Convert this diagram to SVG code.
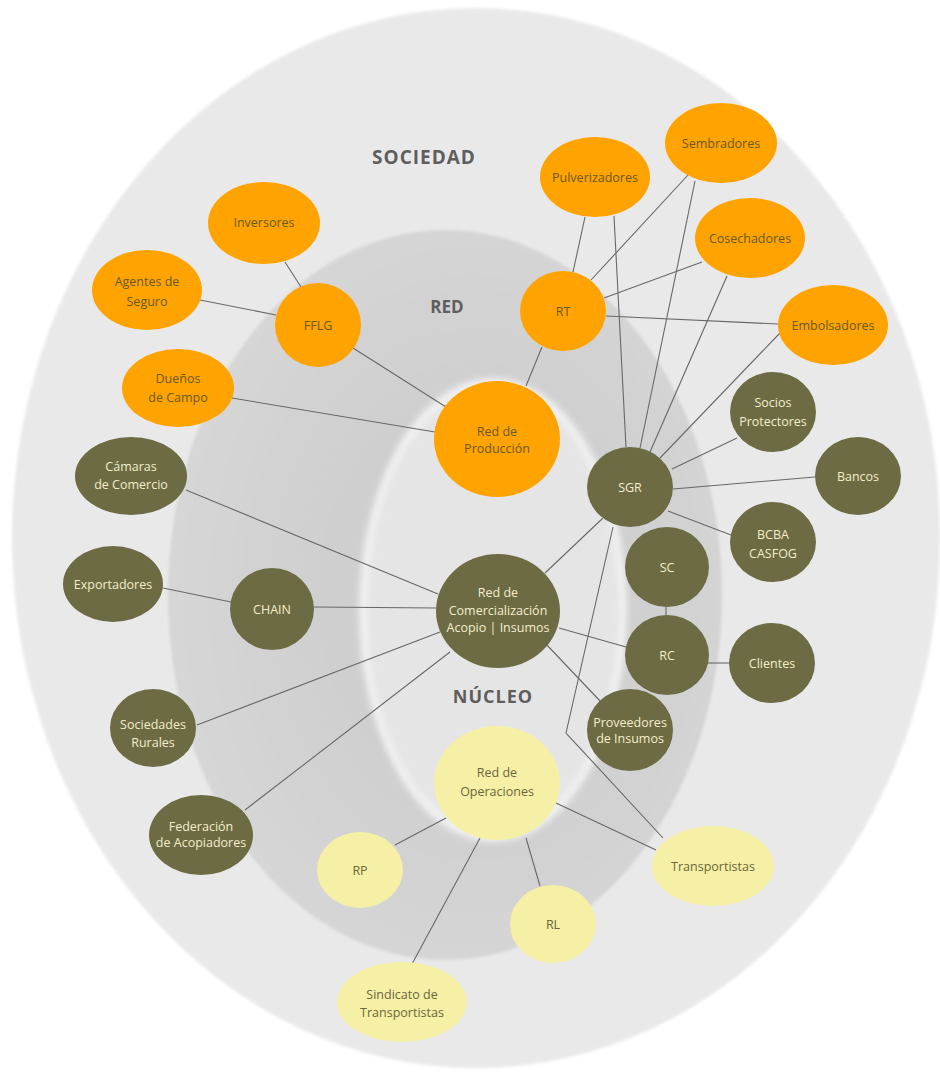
<svg xmlns="http://www.w3.org/2000/svg" width="940" height="1074" viewBox="0 0 940 1074">
<style>
.lbl{font-family:"Open Sans","Noto Sans","Liberation Sans",sans-serif;font-size:12.5px;text-anchor:middle}
.zone{font-family:"Open Sans","Noto Sans","Liberation Sans",sans-serif;font-weight:bold;text-anchor:middle;fill:#5e5e5e}
.o{fill:#ffa300}
.ot{fill:#6a5a24}
.g{fill:#6d6b44}
.gt{fill:#f2eecb}
.y{fill:#f5f0a6}
.yt{fill:#6b6638}
#connectors line,#connectors polyline{stroke:#686868;stroke-width:1.1;fill:none}
</style>
<defs>
<radialGradient id="midg" cx="0.55" cy="0.5" r="0.55">
<stop offset="0.5" stop-color="#cfcfcf"/>
<stop offset="1" stop-color="#d6d6d6"/>
</radialGradient>
<filter id="soft" x="-10%" y="-10%" width="120%" height="120%">
<feGaussianBlur stdDeviation="3"/>
</filter>
<filter id="soft2" x="-10%" y="-10%" width="120%" height="120%">
<feGaussianBlur stdDeviation="1.5"/>
</filter>
</defs>
<rect width="940" height="1074" fill="#ffffff"/>
<g id="background">
<ellipse cx="476" cy="538" rx="464" ry="530" fill="#e9e9e9" filter="url(#soft2)"/>
<ellipse cx="445" cy="595" rx="277" ry="365" fill="url(#midg)" filter="url(#soft2)"/>
<ellipse cx="493" cy="610" rx="134" ry="232" fill="#f1f1f1" filter="url(#soft)"/>
<ellipse cx="493" cy="610" rx="126" ry="223" fill="#e5e5e5" filter="url(#soft)"/>
</g>
<g id="zones">
<text class="zone" x="424" y="164" font-size="19" letter-spacing="1">SOCIEDAD</text>
<text class="zone" x="447" y="313" font-size="17">RED</text>
<text class="zone" x="493" y="703" font-size="18" letter-spacing="1">NÚCLEO</text>
</g>
<g id="connectors">
<line x1="285" y1="262" x2="301" y2="287"/>
<line x1="200" y1="300" x2="276" y2="315"/>
<line x1="353" y1="348" x2="446" y2="407"/>
<line x1="232" y1="398" x2="435" y2="432"/>
<line x1="542" y1="347" x2="526" y2="386"/>
<line x1="585" y1="217" x2="573" y2="272"/>
<line x1="591" y1="280" x2="688" y2="175"/>
<line x1="604" y1="298" x2="702" y2="262"/>
<line x1="606" y1="316" x2="778" y2="324"/>
<line x1="614" y1="216" x2="626" y2="447"/>
<line x1="695" y1="181" x2="640" y2="448"/>
<line x1="727" y1="276" x2="650" y2="452"/>
<line x1="780" y1="333" x2="660" y2="458"/>
<line x1="737" y1="438" x2="672" y2="469"/>
<line x1="815" y1="477" x2="673" y2="489"/>
<line x1="731" y1="535" x2="668" y2="511"/>
<line x1="603" y1="518" x2="545" y2="573"/>
<polyline points="613,527 566,733 663,838"/>
<line x1="666" y1="606" x2="666" y2="616"/>
<line x1="708" y1="663" x2="730" y2="663"/>
<line x1="559" y1="628" x2="626" y2="647"/>
<line x1="545" y1="643" x2="601" y2="702"/>
<line x1="186" y1="490" x2="438" y2="594"/>
<line x1="314" y1="607" x2="437" y2="608"/>
<line x1="163" y1="588" x2="231" y2="602"/>
<line x1="197" y1="725" x2="440" y2="632"/>
<line x1="245" y1="810" x2="450" y2="652"/>
<line x1="446" y1="818" x2="395" y2="845"/>
<line x1="480" y1="838" x2="412" y2="964"/>
<line x1="526" y1="838" x2="540" y2="886"/>
<line x1="556" y1="803" x2="656" y2="850"/>
</g>
<g id="n-inversores"><ellipse class="o" cx="264" cy="223" rx="56" ry="41"/><text class="lbl ot" x="264" y="227">Inversores</text></g>
<g id="n-agentes"><ellipse class="o" cx="147" cy="290" rx="55" ry="40"/><text class="lbl ot" x="147" y="286">Agentes de</text><text class="lbl ot" x="147" y="306">Seguro</text></g>
<g id="n-fflg"><ellipse class="o" cx="318" cy="325" rx="43" ry="42"/><text class="lbl ot" x="318" y="330">FFLG</text></g>
<g id="n-duenos"><ellipse class="o" cx="178" cy="388" rx="56" ry="39"/><text class="lbl ot" x="178" y="383">Dueños</text><text class="lbl ot" x="178" y="402">de Campo</text></g>
<g id="n-redproduccion"><ellipse class="o" cx="497" cy="439" rx="63" ry="58"/><text class="lbl ot" x="497" y="436">Red de</text><text class="lbl ot" x="497" y="453">Producción</text></g>
<g id="n-rt"><ellipse class="o" cx="563" cy="311" rx="43" ry="40"/><text class="lbl ot" x="563" y="316">RT</text></g>
<g id="n-pulverizadores"><ellipse class="o" cx="595" cy="177" rx="55" ry="40"/><text class="lbl ot" x="595" y="182">Pulverizadores</text></g>
<g id="n-sembradores"><ellipse class="o" cx="721" cy="143" rx="56" ry="40"/><text class="lbl ot" x="721" y="148">Sembradores</text></g>
<g id="n-cosechadores"><ellipse class="o" cx="750" cy="238" rx="55" ry="40"/><text class="lbl ot" x="750" y="243">Cosechadores</text></g>
<g id="n-embolsadores"><ellipse class="o" cx="833" cy="325" rx="55" ry="40"/><text class="lbl ot" x="833" y="330">Embolsadores</text></g>
<g id="n-socios"><ellipse class="g" cx="773" cy="412" rx="43" ry="40"/><text class="lbl gt" x="773" y="407">Socios</text><text class="lbl gt" x="773" y="426">Protectores</text></g>
<g id="n-bancos"><ellipse class="g" cx="858" cy="476" rx="43" ry="39"/><text class="lbl gt" x="858" y="481">Bancos</text></g>
<g id="n-sgr"><ellipse class="g" cx="630" cy="487" rx="43" ry="40"/><text class="lbl gt" x="630" y="492">SGR</text></g>
<g id="n-bcba"><ellipse class="g" cx="773" cy="542" rx="43" ry="40"/><text class="lbl gt" x="773" y="539">BCBA</text><text class="lbl gt" x="773" y="558" font-size="14">CASFOG</text></g>
<g id="n-sc"><ellipse class="g" cx="667" cy="567" rx="42" ry="40"/><text class="lbl gt" x="667" y="572">SC</text></g>
<g id="n-rc"><ellipse class="g" cx="667" cy="655" rx="42" ry="40"/><text class="lbl gt" x="667" y="660">RC</text></g>
<g id="n-clientes"><ellipse class="g" cx="772" cy="663" rx="43" ry="40"/><text class="lbl gt" x="772" y="668">Clientes</text></g>
<g id="n-redcomercializacion"><ellipse class="g" cx="498" cy="611" rx="62" ry="57"/><text class="lbl gt" x="498" y="597">Red de</text><text class="lbl gt" x="498" y="615">Comercialización</text><text class="lbl gt" x="498" y="632">Acopio | Insumos</text></g>
<g id="n-camaras"><ellipse class="g" cx="131" cy="476" rx="56" ry="39"/><text class="lbl gt" x="131" y="471" font-size="14">Cámaras</text><text class="lbl gt" x="131" y="489">de Comercio</text></g>
<g id="n-exportadores"><ellipse class="g" cx="113" cy="584" rx="50" ry="38"/><text class="lbl gt" x="113" y="589">Exportadores</text></g>
<g id="n-chain"><ellipse class="g" cx="272" cy="609" rx="42" ry="41"/><text class="lbl gt" x="272" y="614">CHAIN</text></g>
<g id="n-sociedades"><ellipse class="g" cx="153" cy="728" rx="43" ry="39"/><text class="lbl gt" x="153" y="729">Sociedades</text><text class="lbl gt" x="153" y="747">Rurales</text></g>
<g id="n-federacion"><ellipse class="g" cx="201" cy="835" rx="52" ry="40"/><text class="lbl gt" x="201" y="831" font-size="12">Federación</text><text class="lbl gt" x="201" y="847" font-size="12">de Acopiadores</text></g>
<g id="n-proveedores"><ellipse class="g" cx="630" cy="730" rx="43" ry="41"/><text class="lbl gt" x="630" y="727" font-size="12">Proveedores</text><text class="lbl gt" x="630" y="743" font-size="11">de Insumos</text></g>
<g id="n-redoperaciones"><ellipse class="y" cx="497" cy="783" rx="63" ry="57"/><text class="lbl yt" x="497" y="777">Red de</text><text class="lbl yt" x="497" y="796">Operaciones</text></g>
<g id="n-rp"><ellipse class="y" cx="360" cy="870" rx="43" ry="38"/><text class="lbl yt" x="360" y="875" font-size="11">RP</text></g>
<g id="n-rl"><ellipse class="y" cx="553" cy="924" rx="43" ry="39"/><text class="lbl yt" x="553" y="929">RL</text></g>
<g id="n-transportistas"><ellipse class="y" cx="713" cy="866" rx="61" ry="40"/><text class="lbl yt" x="713" y="871">Transportistas</text></g>
<g id="n-sindicato"><ellipse class="y" cx="402" cy="1002" rx="65" ry="40"/><text class="lbl yt" x="402" y="999">Sindicato de</text><text class="lbl yt" x="402" y="1017">Transportistas</text></g>
</svg>
